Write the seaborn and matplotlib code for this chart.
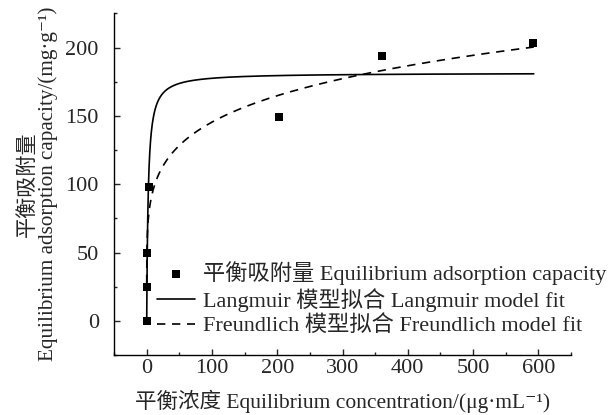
import numpy as np
import pandas as pd
import matplotlib
matplotlib.use("Agg")
import matplotlib.pyplot as plt
from matplotlib.ticker import MultipleLocator
import seaborn as sns

# Observed data
conc = [0.0, 0.0, 0.0, 3.5, 202.0, 361.0, 592.0]
capacity = [0.0, 25.0, 50.0, 98.0, 149.0, 194.0, 203.5]

# Fit parameters
langmuir_qm = 181.5
langmuir_k = 0.45
freundlich_kf = 63.5
freundlich_inv_n = 0.18

x_ticks = [0, 100, 200, 300, 400, 500, 600]
y_ticks = [0, 50, 100, 150, 200]

lab_pts = "平衡吸附量 Equilibrium adsorption capacity"
lab_lang = "Langmuir 模型拟合 Langmuir model fit"
lab_freu = "Freundlich 模型拟合 Freundlich model fit"
xlabel = "平衡浓度 Equilibrium concentration/(μg·mL⁻¹)"
ylabel = "平衡吸附量\nEquilibrium adsorption capacity/(mg·g⁻¹)"

sns.set_theme(style="ticks")
fam = ["Liberation Serif", "Noto Sans CJK SC", "DejaVu Serif"]
plt.rcParams["font.family"] = fam
plt.rcParams["axes.unicode_minus"] = False

c_fit = np.linspace(0, 593, 3000)
c_fit_f = np.concatenate([np.geomspace(0.01, 1, 200), np.linspace(1, 593, 2000)])
lang = langmuir_qm * langmuir_k * c_fit / (1 + langmuir_k * c_fit)
freu = freundlich_kf * c_fit_f ** freundlich_inv_n

fig = plt.figure(figsize=(6.1, 4.15), dpi=100)
ax = fig.add_axes([0.187, 0.1446, 0.749, 0.823])

df_pts = pd.DataFrame({"C": conc, "q": capacity})
df_l = pd.DataFrame({"C": c_fit, "q": lang})
df_f = pd.DataFrame({"C": c_fit_f, "q": freu})

sns.lineplot(data=df_l, x="C", y="q", ax=ax, color="black", lw=1.2,
             label=lab_lang, sort=False, estimator=None)
sns.lineplot(data=df_f, x="C", y="q", ax=ax, color="black", lw=1.2,
             linestyle=(0, (5, 4)), label=lab_freu, sort=False, estimator=None)
sns.scatterplot(data=df_pts, x="C", y="q", ax=ax, marker="s", color="black",
                s=32, edgecolor="black", linewidth=0, label=lab_pts, zorder=5)

ax.set_xlim(-50, 650)
ax.set_ylim(-25, 225)
ax.set_xticks(x_ticks)
ax.set_yticks(y_ticks)
ax.xaxis.set_minor_locator(MultipleLocator(50))
ax.yaxis.set_minor_locator(MultipleLocator(25))
ax.tick_params(which="major", direction="in", length=4, width=1, labelsize=16)
ax.tick_params(axis="x", which="major", pad=3)
ax.tick_params(axis="y", which="major", pad=11)
ax.tick_params(which="minor", direction="in", length=2.5, width=1)
for s in ["top", "right"]:
    ax.spines[s].set_visible(False)
for s in ["left", "bottom"]:
    ax.spines[s].set_linewidth(1.0)
    ax.spines[s].set_color("black")

ax.set_xlabel(xlabel, fontsize=15.5, labelpad=8)
ax.set_ylabel(ylabel, fontsize=15.2, labelpad=5, linespacing=1.05)

handles, labels = ax.get_legend_handles_labels()
order = [labels.index(lab_pts), labels.index(lab_lang), labels.index(lab_freu)]
ax.legend([handles[i] for i in order], [labels[i] for i in order],
          loc="upper left", bbox_to_anchor=(0.094, 0.275), frameon=False,
          fontsize=16, handlelength=1.7, handletextpad=0.35,
          labelspacing=0.15, borderpad=0, borderaxespad=0)

fig.savefig("out.png", dpi=100)
